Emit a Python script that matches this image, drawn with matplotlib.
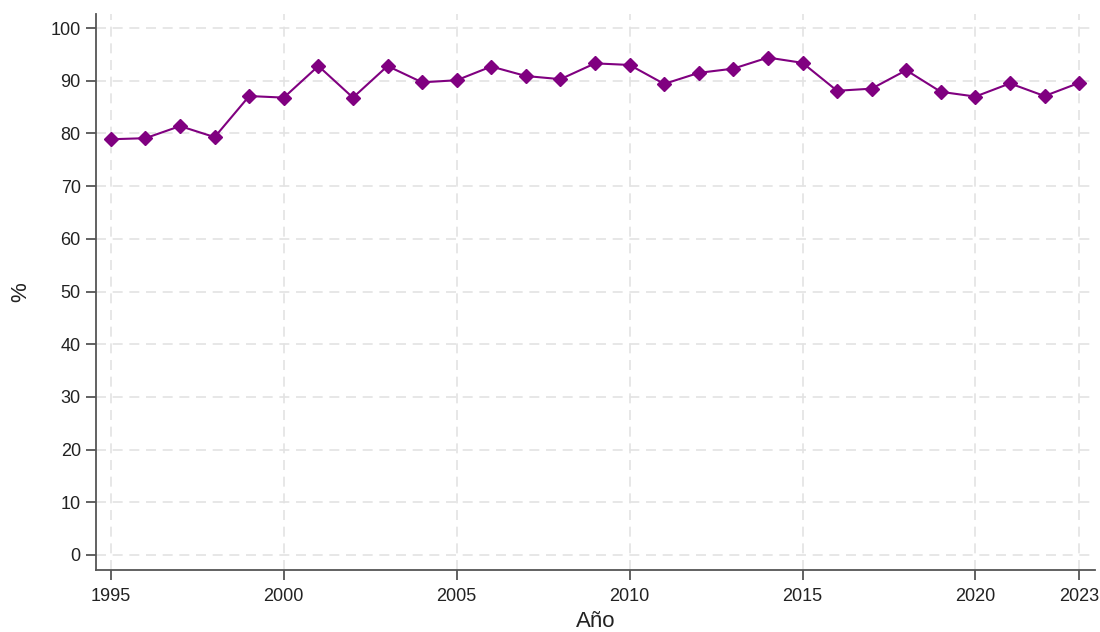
import matplotlib
matplotlib.use("Agg")
import matplotlib.pyplot as plt

years = list(range(1995, 2024))
values = [78.9, 79.1, 81.4, 79.3, 87.1, 86.8, 92.8, 86.8, 92.8, 89.7,
          90.1, 92.7, 90.9, 90.3, 93.3, 93.0, 89.4, 91.5, 92.3, 94.4,
          93.4, 88.1, 88.5, 92.0, 87.9, 87.0, 89.5, 87.1, 89.6]
xticks = [1995, 2000, 2005, 2010, 2015, 2020, 2023]
yticks = list(range(0, 101, 10))

plt.rcParams["font.family"] = ["Liberation Sans", "DejaVu Sans"]

fig = plt.figure(figsize=(11, 6.32), dpi=100)
ax = fig.add_axes([0.0873, 0.0981, 0.9082, 0.880])

ax.plot(years, values, color="#800080", lw=1.5, marker="D", ms=7.5,
        markeredgecolor="#800080", zorder=3)

ax.set_xlim(1994.57, 2023.46)
ax.set_ylim(-2.85, 102.7)
ax.set_xticks(xticks)
ax.set_yticks(yticks)
ax.grid(True, ls=(0, (6, 4)), color="#e3e3e3", lw=1.2, zorder=0)

for s in ["top", "right"]:
    ax.spines[s].set_visible(False)
for s in ["left", "bottom"]:
    ax.spines[s].set_color("#555555")
    ax.spines[s].set_linewidth(1.3)

ax.tick_params(axis="both", direction="out", length=7, width=1.3,
               color="#555555", labelsize=13, labelcolor="#222222", pad=4)
ax.tick_params(axis="x", pad=6)
ax.set_xlabel("Año", fontsize=16, color="#222222", labelpad=4)
ax.set_ylabel("%", fontsize=16, color="#222222", labelpad=14)

fig.savefig("out.png", dpi=100)
